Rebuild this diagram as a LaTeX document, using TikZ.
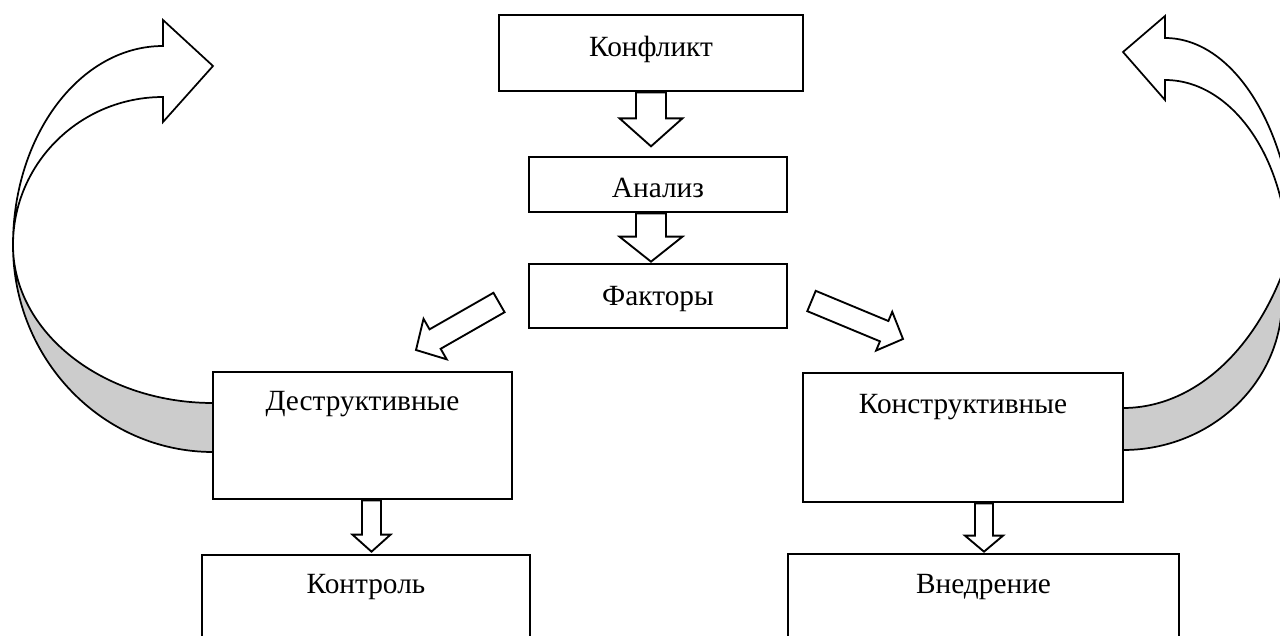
\documentclass[tikz,border=0pt]{standalone}
\usepackage{fontspec}
\setmainfont{Liberation Serif}
\usetikzlibrary{calc}
\tikzset{
  box/.style={draw, line width=2pt, fill=white, inner sep=0pt, align=center,
    font=\fontsize{22}{26}\selectfont, anchor=base},
  blockarr/.style={draw, line width=1.4pt, fill=white, line join=miter},
  curvedfront/.style={draw, line width=1.3pt, fill=white, line join=miter},
  curvedback/.style={draw, line width=1.3pt, fill=gray!40, line join=miter},
}
% #1 start, #2 tip, #3 shaft half width, #4 head half width, #5 head length
\newcommand\blockarrow[5]{%
  \coordinate (ba-h) at ($(#2)!#5!(#1)$);
  \draw[blockarr] ($(#1)!#3!90:(#2)$) -- ($(ba-h)!#3!90:(#2)$) -- ($(ba-h)!#4!90:(#2)$)
    -- (#2) -- ($(ba-h)!#4!-90:(#2)$) -- ($(ba-h)!#3!-90:(#2)$) -- ($(#1)!#3!-90:(#2)$) -- cycle;
}
\begin{document}
\begin{tikzpicture}[x=0.75pt, y=-0.75pt]
\useasboundingbox (0,0) rectangle (1280,635);
\clip (0,0) rectangle (1280,635);

% left curved arrow
\draw[curvedback] (13,245) arc[start angle=180, end angle=90, x radius=200, y radius=207]
  -- (213,403) arc[start angle=90, end angle=180, x radius=200, y radius=158] -- cycle;
\draw[curvedfront] (13,245) arc[start angle=180, end angle=270, x radius=150, y radius=199]
  -- (163,20) -- (213,66) -- (163,122) -- (163,97)
  arc[start angle=270, end angle=180, x radius=150, y radius=148] -- cycle;

% right curved arrow
\draw[curvedback] (1282,300) arc[start angle=0, end angle=90, x radius=159, y radius=150]
  -- (1123,408) arc[start angle=90, end angle=0, x radius=182, y radius=260] -- cycle;
\draw[curvedfront] (1165,38) arc[start angle=270, end angle=360, x radius=130, y radius=222]
  -- (1288,260) arc[start angle=0, end angle=-90, x radius=123, y radius=180]
  -- (1165,100) -- (1123,52) -- (1165,16) -- cycle;

% boxes
\node[box, text width=228pt, text height=30.75pt, text depth=26.25pt] (konf) at (651,56) {Конфликт};
\node[box, text width=193.5pt, text height=30pt, text depth=11.25pt] (anal) at (658,197) {Анализ};
\node[box, text width=193.5pt, text height=30.75pt, text depth=17.25pt] (fakt) at (658,305) {Факторы};
\node[box, text width=224.25pt, text height=28.5pt, text depth=66.75pt] (destr) at (362.5,410) {Деструктивные};
\node[box, text width=240pt, text height=30pt, text depth=66.75pt] (konstr) at (963,413) {Конструктивные};
\node[box, text width=246pt, text height=28.5pt, text depth=65.25pt] (kontr) at (366,593) {Контроль};
\node[box, text width=293.25pt, text height=29.25pt, text depth=65.25pt] (vned) at (983.5,593) {Внедрение};

% block arrows
\coordinate (a1t) at ($(konf.south)+(0,54)$);
\blockarrow{konf.south}{a1t}{11.25pt}{23.6pt}{21pt}
\coordinate (a2s) at ($(anal.south)+(-7,0)$);
\coordinate (a2t) at ($(fakt.north)+(-7,-1)$);
\blockarrow{a2s}{a2t}{11.25pt}{23.6pt}{18.75pt}
\coordinate (a3s) at (499,302.5);
\coordinate (a3t) at (416,350);
\blockarrow{a3s}{a3t}{8.4pt}{17.5pt}{16.5pt}
\coordinate (a4s) at (811.5,301);
\coordinate (a4t) at (903,339);
\blockarrow{a4s}{a4t}{8.25pt}{15.75pt}{15.3pt}
\coordinate (a5s) at ($(destr.south)+(9,0)$);
\coordinate (a5t) at ($(kontr.north)+(5.5,-2)$);
\blockarrow{a5s}{a5t}{7.1pt}{14.25pt}{12.75pt}
\coordinate (a6s) at ($(konstr.south)+(21,0)$);
\coordinate (a6t) at ($(vned.north)+(0.5,-1)$);
\blockarrow{a6s}{a6t}{6.75pt}{14.25pt}{12pt}
\end{tikzpicture}
\end{document}
